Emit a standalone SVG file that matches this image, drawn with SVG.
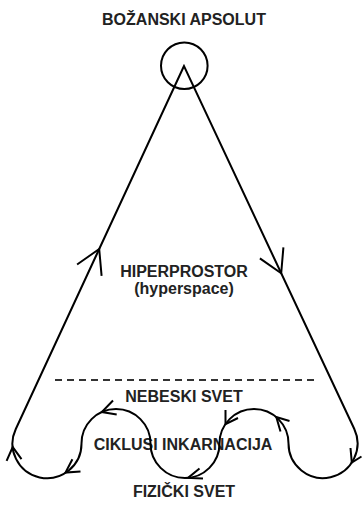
<svg xmlns="http://www.w3.org/2000/svg" width="362" height="506" viewBox="0 0 362 506">
  <style>
    .lbl { font-family: "Liberation Sans", Arial, sans-serif; font-weight: bold; font-size: 16px; fill: #222; text-anchor: middle; }
    .ln { fill: none; stroke: #000; stroke-width: 2; stroke-linejoin: miter; stroke-linecap: butt; }
    .arr { fill: none; stroke: #000; stroke-width: 2; stroke-linejoin: miter; stroke-linecap: butt; }
    .dash { fill: none; stroke: #333; stroke-width: 2; stroke-dasharray: 7 5; }
  </style>
  <rect width="362" height="506" fill="#fff"/>

  <g id="absolut">
    <text class="lbl" x="184" y="25">BOŽANSKI APSOLUT</text>
    <circle cx="184.3" cy="65.8" r="23.3" class="ln"/>
  </g>

  <g id="hiperprostor">
    <text class="lbl" x="184" y="277">HIPERPROSTOR</text>
    <text class="lbl" x="184" y="294">(hyperspace)</text>
  </g>

  <g id="nebeski-svet">
    <text class="lbl" x="184" y="402">NEBESKI SVET</text>
  </g>

  <g id="ciklusi">
    <text class="lbl" x="183" y="449.5">CIKLUSI INKARNACIJA</text>
  </g>

  <g id="fizicki-svet">
    <text class="lbl" x="184" y="497">FIZIČKI SVET</text>
  </g>

  <g id="connectors">
    <line class="dash" x1="55" y1="380" x2="314" y2="380"/>
    <path class="ln" d="M184,66 L15.8,429 A34.5,34.5 0 1 0 81.5,443.5 A34.5,34.5 0 0 1 150.5,443.5 A34.5,34.5 0 0 0 219.5,443.5 A34.5,34.5 0 0 1 288.5,443.5 A34.5,34.5 0 1 0 354.2,428.8 Z"/>
    <!-- arrowheads -->
    <polyline class="arr" points="77.1,264.5 99.2,249 101.6,275.9"/>
    <polyline class="arr" points="259.9,258.4 281.2,273.3 283.4,247.4"/>
    <polyline class="arr" points="6.6,460.8 12.7,447.1 21.5,459.2"/>
    <polyline class="arr" points="72.4,459.3 65.5,472.6 80.5,471.5"/>
    <polyline class="arr" points="113,400.5 101.8,412.1 116.7,414.5"/>
    <polyline class="arr" points="199.5,468.5 188,477.9 203,478.5"/>
    <polyline class="arr" points="225.5,410 225.5,424.1 238,418"/>
    <polyline class="arr" points="289.5,421 276.3,417.1 280.5,431.5"/>
    <polyline class="arr" points="350.5,448 351.8,462.5 361.5,456.5"/>
  </g>
</svg>
